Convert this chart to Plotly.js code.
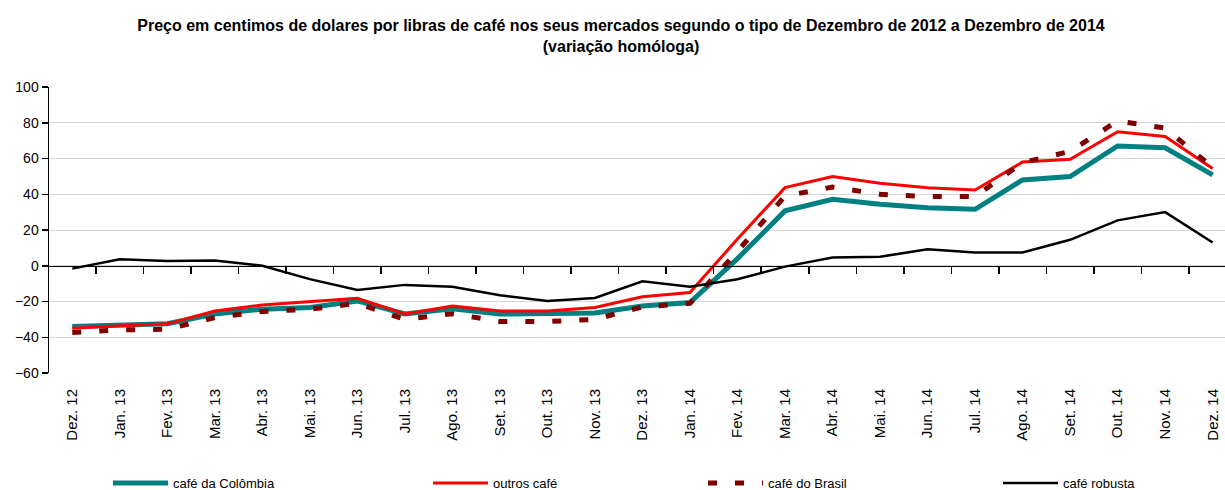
<!DOCTYPE html>
<html>
<head>
<meta charset="utf-8">
<script src="https://cdn.plot.ly/plotly-3.0.1.min.js"></script>
<style>html,body{margin:0;padding:0;background:#fff;}#chart{width:1225px;height:490px;}</style>
</head>
<body>
<div id="chart"></div>
<script>
const categories = ["Dez. 12","Jan. 13","Fev. 13","Mar. 13","Abr. 13","Mai. 13","Jun. 13","Jul. 13","Ago. 13","Set. 13","Out. 13","Nov. 13","Dez. 13","Jan. 14","Fev. 14","Mar. 14","Abr. 14","Mai. 14","Jun. 14","Jul. 14","Ago. 14","Set. 14","Out. 14","Nov. 14","Dez. 14"];
const cafeColombia = [-34,-33,-32.4,-27,-24.3,-23.4,-19.7,-27,-24,-27,-26.8,-26.4,-22.5,-20.6,4,30.7,37.2,34.4,32.5,31.6,48,49.9,67,66,50.8];
const outrosCafe = [-35,-33.5,-32.5,-25.3,-21.9,-20.2,-18.2,-27,-22.5,-25.3,-25.3,-23.4,-17.3,-15,15,43.7,49.9,46.2,43.7,42.4,58,59.6,75,72.3,54.4];
const cafeBrasil = [-37.4,-35.9,-35.5,-29,-25.6,-24.3,-21,-30,-26.8,-31.2,-31.2,-30,-23,-21,8,39,44,40,38.7,38.7,57.7,64,81,77,55];
const cafeRobusta = [-1.6,3.6,2.7,3,0,-7.5,-13.5,-10.7,-11.7,-16.5,-19.7,-18,-8.7,-11.7,-7.5,-0.5,4.6,5,9.2,7.4,7.4,14.5,25.4,30,13];
const seriesNames = ["café da Colômbia","outros café","café do Brasil","café robusta"];
const yTicks = [-60,-40,-20,0,20,40,60,80,100];

const FONT = "Liberation Sans, Arial, sans-serif";

const traces = [
  {x: categories, y: cafeColombia, name: seriesNames[0], type: "scatter", mode: "lines",
   line: {color: "#008080", width: 5}, legend: "legend"},
  {x: categories, y: outrosCafe, name: seriesNames[1], type: "scatter", mode: "lines",
   line: {color: "#ff0000", width: 3}, legend: "legend2"},
  {x: categories, y: cafeBrasil, name: seriesNames[2], type: "scatter", mode: "lines",
   line: {color: "#800000", width: 5, dash: "9px,18px"}, legend: "legend3"},
  {x: categories, y: cafeRobusta, name: seriesNames[3], type: "scatter", mode: "lines",
   line: {color: "#000000", width: 2.5}, legend: "legend4"},
  {x: categories, y: cafeRobusta, xaxis: "x2", type: "scatter", mode: "lines",
   line: {width: 0}, opacity: 0, showlegend: false, hoverinfo: "skip"}
];

function leg(xpx) {
  return {orientation: "h", xref: "container", yref: "container", x: xpx / 1225, y: 1 - 483 / 490,
          xanchor: "left", yanchor: "middle", font: {family: FONT, size: 13, color: "#000"},
          bgcolor: "rgba(0,0,0,0)", borderwidth: 0, itemwidth: 55, tracegroupgap: 0};
}

const layout = {
  width: 1225, height: 490,
  margin: {l: 49, r: 0, t: 87, b: 117},
  paper_bgcolor: "#fff", plot_bgcolor: "#fff",
  title: {
    text: "Preço em centimos de dolares por libras de café nos seus mercados segundo o tipo de Dezembro de 2012 a Dezembro de 2014<br>(variação homóloga)",
    font: {family: FONT, size: 16, color: "#000", weight: "bold"},
    xref: "container", x: 621 / 1225, xanchor: "center",
    yref: "container", y: 1 - 31 / 490, yanchor: "top"
  },
  xaxis: {
    type: "category", range: [-0.489, 24.26], showline: false, showgrid: false, zeroline: false,
    ticks: "", tickangle: -90, ticklabelstandoff: 12,
    tickfont: {family: FONT, size: 15, color: "#000"}
  },
  xaxis2: {
    type: "category", overlaying: "x", matches: "x", anchor: "free", position: 0.375, side: "bottom",
    showline: true, linecolor: "#000", linewidth: 1.5, showgrid: false, zeroline: false,
    ticks: "outside", tickson: "boundaries", ticklen: 7, tickwidth: 1.5, tickcolor: "#000",
    showticklabels: false
  },
  yaxis: {
    range: [-60, 100], tickvals: yTicks, showline: true, linecolor: "#000", linewidth: 1.5,
    ticks: "outside", ticklen: 6, tickwidth: 1.5, tickcolor: "#000",
    showgrid: true, gridcolor: "#d6d6d6", gridwidth: 1, zeroline: false,
    tickfont: {family: FONT, size: 14, color: "#000"}
  },
  legend: leg(108),
  legend2: leg(428),
  legend3: leg(703),
  legend4: leg(998),
  showlegend: true
};

Plotly.newPlot("chart", traces, layout, {displayModeBar: false, staticPlot: true});
</script>
</body>
</html>
